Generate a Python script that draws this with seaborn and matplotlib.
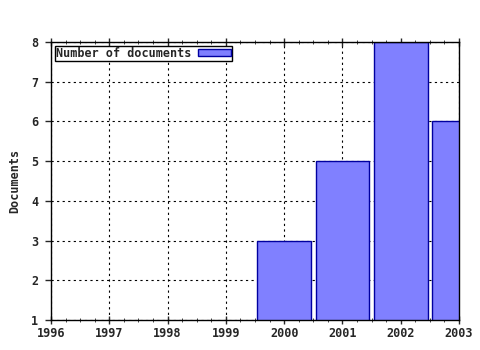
import matplotlib
matplotlib.use("Agg")
import matplotlib.pyplot as plt
import seaborn as sns
import pandas as pd
from matplotlib.ticker import MultipleLocator

years = [2000, 2001, 2002, 2003]
documents = [3, 5, 8, 6]
xticks = [1996, 1997, 1998, 1999, 2000, 2001, 2002, 2003]
yticks = [1, 2, 3, 4, 5, 6, 7, 8]

sns.set_style("white")
plt.rcParams['font.family'] = ['DejaVu Sans Mono']
plt.rcParams['font.weight'] = 'bold'

df = pd.DataFrame({"year": years, "docs": documents})

fig = plt.figure(figsize=(4.8, 3.5), dpi=100)
ax = fig.add_axes([51/480, 30/350, 408/480, 278/350])

sns.barplot(data=df, x="year", y="docs", native_scale=True, width=0.92,
            color="#8080ff", saturation=1, edgecolor="#0000a0", linewidth=1,
            ax=ax, label="Number of documents", zorder=3)

fs = 8.5
ax.set_xlim(1996, 2003)
ax.set_ylim(1, 8)
ax.set_xticks(xticks)
ax.set_xticklabels([str(x) for x in xticks], fontsize=fs, fontweight='bold')
ax.set_yticks(yticks)
ax.set_yticklabels([str(y) for y in yticks], fontsize=fs, fontweight='bold')
ax.xaxis.set_minor_locator(MultipleLocator(0.25))
ax.tick_params(axis='x', which='major', direction='inout', length=6, width=1, top=True, bottom=True, pad=2)
ax.tick_params(axis='x', which='minor', direction='inout', length=2.5, width=0.6, top=True, bottom=True)
ax.tick_params(axis='y', which='major', direction='out', length=4, width=1, left=True, pad=5)
ax.grid(True, which='major', color='black', linestyle=(0, (2, 3)), linewidth=0.8, zorder=1)
ax.set_axisbelow(True)
ax.set_xlabel("")
ax.set_ylabel("Documents", fontsize=fs, fontweight='bold', labelpad=7)
for s in ax.spines.values():
    s.set_visible(True)
    s.set_color('black')
    s.set_linewidth(1)
    s.set_zorder(5)

leg = ax.legend(loc='upper left', fontsize=fs, frameon=True, fancybox=False,
                edgecolor='black', framealpha=1, markerfirst=False,
                borderpad=0.1, handlelength=2.8, handleheight=0.6,
                borderaxespad=0.3, handletextpad=0.6)
leg.get_frame().set_linewidth(1)
for t in leg.get_texts():
    t.set_fontweight('bold')

fig.savefig("out.png", dpi=100)
